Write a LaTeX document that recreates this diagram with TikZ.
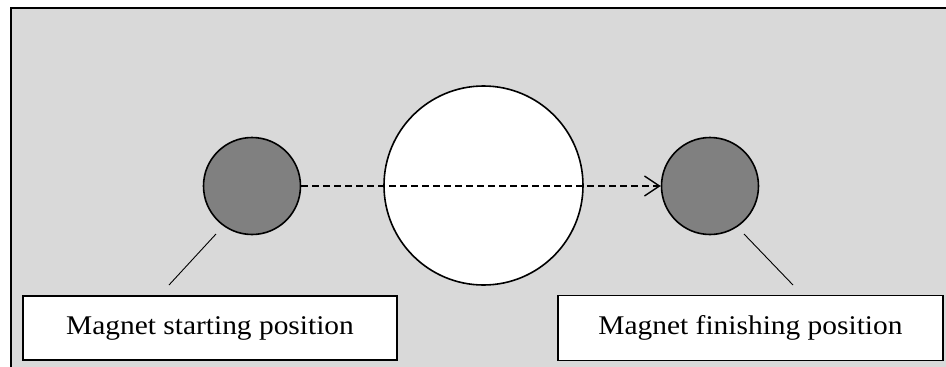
\documentclass[tikz,border=0pt]{standalone}
\usepackage{fontspec}
\setmainfont[FakeStretch=1.09]{Liberation Serif}
\usetikzlibrary{arrows.meta}
\definecolor{panelgray}{HTML}{D9D9D9}
\definecolor{magnetgray}{HTML}{808080}
\tikzset{
  magnet/.style={circle, draw=black, line width=1.6pt, fill=magnetgray,
    minimum size=97pt, inner sep=0pt},
  ringbody/.style={circle, draw=black, line width=1.6pt, fill=white,
    minimum size=199pt, inner sep=0pt},
  labelbox/.style={rectangle, draw=black, line width=1.8pt, fill=white,
    inner sep=0pt, font=\fontsize{27}{30}\selectfont},
  leader/.style={draw=black, line width=0.9pt},
  path/.style={draw=black, line width=1.6pt, dash pattern=on 7pt off 4pt,
    -{Straight Barb[length=15pt,width=20pt,line width=1.4pt]}}
}
\begin{document}
\begin{tikzpicture}[x=1pt,y=-1pt]
  \useasboundingbox (0,0) rectangle (946,367);
  \begin{scope}
    \clip (0,0) rectangle (946,367);
    % grey panel with its frame, running past the right and bottom edges
    \draw[fill=panelgray, draw=black, line width=2pt] (11,8.3) rectangle (960,380);
  \end{scope}

  % magnet positions and the central ring
  \node[ringbody] (ring) at (483.5,185.5) {};
  \node[magnet] (start) at (252,186) {};
  \node[magnet] (finish) at (710,186) {};

  % path of the magnet
  \draw[path] (start.east) -- (finish.west);

  % labels
  \node[labelbox, minimum width=374pt, minimum height=64pt] (startlbl) at (210,328) {Magnet starting position};
  \node[labelbox, minimum width=385pt, minimum height=65pt] (finishlbl) at (750.5,328) {Magnet finishing position};

  % leader lines from labels towards the magnets
  \coordinate (startA) at (216,234);
  \coordinate (startB) at (169,285);
  \coordinate (finishA) at (744,234);
  \coordinate (finishB) at (793,285);
  \draw[leader] (startA) -- (startB);
  \draw[leader] (finishA) -- (finishB);
\end{tikzpicture}
\end{document}
